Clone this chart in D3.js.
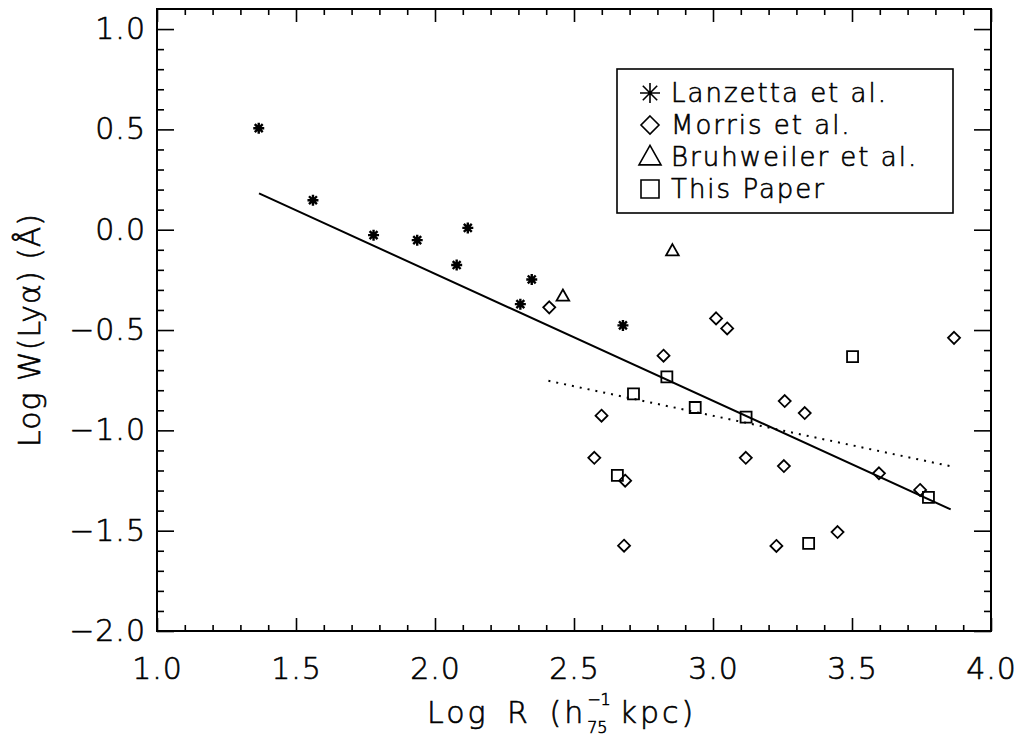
<!DOCTYPE html>
<html>
<head>
<meta charset="utf-8">
<script src="https://cdn.jsdelivr.net/npm/d3@7"></script>
<style>
  body { margin: 0; background: #fff; }
  svg { display: block; }
  text { font-family: "DejaVu Sans", sans-serif; font-weight: 200; fill: #000; stroke: #000; stroke-width: 0.6px; }
</style>
</head>
<body>
<div id="chart"></div>
<script>
// Data
const lanzettaX = [1.366, 1.561, 1.779, 1.936, 2.118, 2.078, 2.348, 2.307, 2.676];
const lanzettaY = [0.506, 0.147, -0.027, -0.052, 0.009, -0.176, -0.248, -0.371, -0.477];

const morrisX = [2.411, 3.011, 3.051, 2.822, 2.599, 2.573, 3.118, 2.684, 2.680, 3.228,
                 3.867, 3.258, 3.330, 3.255, 3.597, 3.745, 3.448];
const morrisY = [-0.387, -0.442, -0.492, -0.628, -0.927, -1.137, -1.137, -1.251, -1.575, -1.576,
                 -0.539, -0.854, -0.914, -1.178, -1.214, -1.297, -1.507];

const bruhX = [2.460, 2.854];
const bruhY = [-0.331, -0.105];

const paperX = [2.834, 2.714, 2.936, 3.119, 2.656, 3.502, 3.344, 3.775];
const paperY = [-0.733, -0.818, -0.886, -0.934, -1.224, -0.633, -1.563, -1.334];

// fitted lines (end points)
const solidFit = [[1.367, 0.181], [3.855, -1.394]];
const dottedFit = [[2.408, -0.753], [3.862, -1.181]];

const xMajor = [1.0, 1.5, 2.0, 2.5, 3.0, 3.5, 4.0];
const yMajor = [1.0, 0.5, 0.0, -0.5, -1.0, -1.5, -2.0];

const legendLabels = ["Lanzetta et al.", "Morris et al.", "Bruhweiler et al.", "This Paper"];
const legendShapes = ["asterisk", "diamond", "triangle", "square"];

// Layout
const W = 1016, H = 739;
const X0 = 157, X1 = 991, Y0 = 631, Y1 = 9;

const svg = d3.select("#chart").append("svg")
  .attr("width", W).attr("height", H);

const x = d3.scaleLinear().domain([1, 4]).range([X0, X1]);
const y = d3.scaleLinear().domain([-2, 1.1]).range([Y0, Y1]);

const fmt = d3.format(".1f");
const xMinor = d3.range(1.1, 4.0, 0.1).filter(v => Math.abs(v * 2 - Math.round(v * 2)) > 0.01);
const yMinor = d3.range(-1.9, 1.1, 0.1).filter(v => Math.abs(v * 2 - Math.round(v * 2)) > 0.01);

function styleAxis(g, fs) {
  g.select(".domain").remove();
  g.selectAll("line").attr("stroke", "#000").attr("stroke-width", 1.6);
  g.selectAll("text").attr("font-size", fs).attr("fill", "#000")
    .attr("letter-spacing", 1)
    .style("font-family", "'DejaVu Sans', sans-serif").style("font-weight", 200);
}

// bottom axis
svg.append("g").attr("transform", `translate(0,${Y0})`)
  .call(d3.axisBottom(x).tickValues(xMajor).tickFormat(fmt).tickSize(-13).tickPadding(27))
  .call(g => styleAxis(g, 30));
svg.append("g").attr("transform", `translate(0,${Y0})`)
  .call(d3.axisBottom(x).tickValues(xMinor).tickFormat("").tickSize(-6))
  .call(g => styleAxis(g, 30));
// top axis
svg.append("g").attr("transform", `translate(0,${Y1})`)
  .call(d3.axisTop(x).tickValues(xMajor).tickFormat("").tickSize(-13))
  .call(g => styleAxis(g, 30));
svg.append("g").attr("transform", `translate(0,${Y1})`)
  .call(d3.axisTop(x).tickValues(xMinor).tickFormat("").tickSize(-6))
  .call(g => styleAxis(g, 30));
// left axis
svg.append("g").attr("transform", `translate(${X0},0)`)
  .call(d3.axisLeft(y).tickValues(yMajor).tickFormat(fmt).tickSize(-17).tickPadding(11))
  .call(g => styleAxis(g, 30));
svg.append("g").attr("transform", `translate(${X0},0)`)
  .call(d3.axisLeft(y).tickValues(yMinor).tickFormat("").tickSize(-7))
  .call(g => styleAxis(g, 30));
// right axis
svg.append("g").attr("transform", `translate(${X1},0)`)
  .call(d3.axisRight(y).tickValues(yMajor).tickFormat("").tickSize(-17))
  .call(g => styleAxis(g, 30));
svg.append("g").attr("transform", `translate(${X1},0)`)
  .call(d3.axisRight(y).tickValues(yMinor).tickFormat("").tickSize(-7))
  .call(g => styleAxis(g, 30));

// frame
svg.append("rect")
  .attr("x", X0).attr("y", Y1)
  .attr("width", X1 - X0).attr("height", Y0 - Y1)
  .attr("fill", "none").attr("stroke", "#000").attr("stroke-width", 2);

// axis titles
const xt = svg.append("g");
const t1 = xt.append("text").attr("x", 427).attr("y", 723).attr("font-size", 30)
  .attr("letter-spacing", 3).attr("word-spacing", 6).text("Log R (h");
const w1 = t1.node().getComputedTextLength();
const sx = 427 + w1 + 1;
xt.append("text").attr("x", sx).attr("y", 705).attr("font-size", 16).text("−1");
const sub = xt.append("text").attr("x", sx).attr("y", 733).attr("font-size", 16).text("75");
const ws = sub.node().getComputedTextLength();
xt.append("text").attr("x", sx + ws + 12).attr("y", 723).attr("font-size", 30)
  .attr("letter-spacing", 3).text("kpc)");

svg.append("text")
  .attr("transform", "translate(40,330) rotate(-90)")
  .attr("text-anchor", "middle")
  .attr("font-size", 30)
  .attr("letter-spacing", 1)
  .text("Log W(Lyα) (Å)");

// fit lines
const line = d3.line().x(d => x(d[0])).y(d => y(d[1]));
svg.append("path").datum(solidFit).attr("d", line)
  .attr("fill", "none").attr("stroke", "#000").attr("stroke-width", 2);
svg.append("path").datum(dottedFit).attr("d", line)
  .attr("fill", "none").attr("stroke", "#000").attr("stroke-width", 2)
  .attr("stroke-dasharray", "2,6");

// marker shapes
function shapePath(kind, s) {
  const h = s / 2;
  if (kind === "diamond") return `M0,${-h}L${h},0L0,${h}L${-h},0Z`;
  if (kind === "square") return `M${-h},${-h}H${h}V${h}H${-h}Z`;
  if (kind === "triangle") return `M0,${-h * 1.1}L${h * 1.05},${h * 0.75}L${-h * 1.05},${h * 0.75}Z`;
  // asterisk
  const d = h * 0.72;
  return `M0,${-h}V${h}M${-h},0H${h}M${-d},${-d}L${d},${d}M${-d},${d}L${d},${-d}`;
}

function drawSeries(xs, ys, kind, size, sw) {
  svg.append("g").selectAll("path")
    .data(xs.map((v, i) => [v, ys[i]]))
    .join("path")
    .attr("transform", d => `translate(${x(d[0])},${y(d[1])})`)
    .attr("d", shapePath(kind, size))
    .attr("fill", "none")
    .attr("stroke", "#000")
    .attr("stroke-width", sw);
}

drawSeries(lanzettaX, lanzettaY, "asterisk", 11, 2.4);
drawSeries(morrisX, morrisY, "diamond", 12, 1.8);
drawSeries(bruhX, bruhY, "triangle", 12, 1.8);
drawSeries(paperX, paperY, "square", 11, 1.8);

// legend
const lg = svg.append("g");
lg.append("rect")
  .attr("x", 617).attr("y", 69).attr("width", 336).attr("height", 144)
  .attr("fill", "#fff").attr("stroke", "#000").attr("stroke-width", 1.6);
const legendSizes = [20, 18, 21, 18];
legendLabels.forEach((lab, i) => {
  const by = 102 + i * 32;
  lg.append("path")
    .attr("transform", `translate(650,${by - 9})`)
    .attr("d", shapePath(legendShapes[i], legendSizes[i]))
    .attr("fill", "none").attr("stroke", "#000").attr("stroke-width", 1.6);
  lg.append("text").attr("x", 671).attr("y", by).attr("font-size", 26)
    .attr("letter-spacing", 2).text(lab);
});
</script>
</body>
</html>
